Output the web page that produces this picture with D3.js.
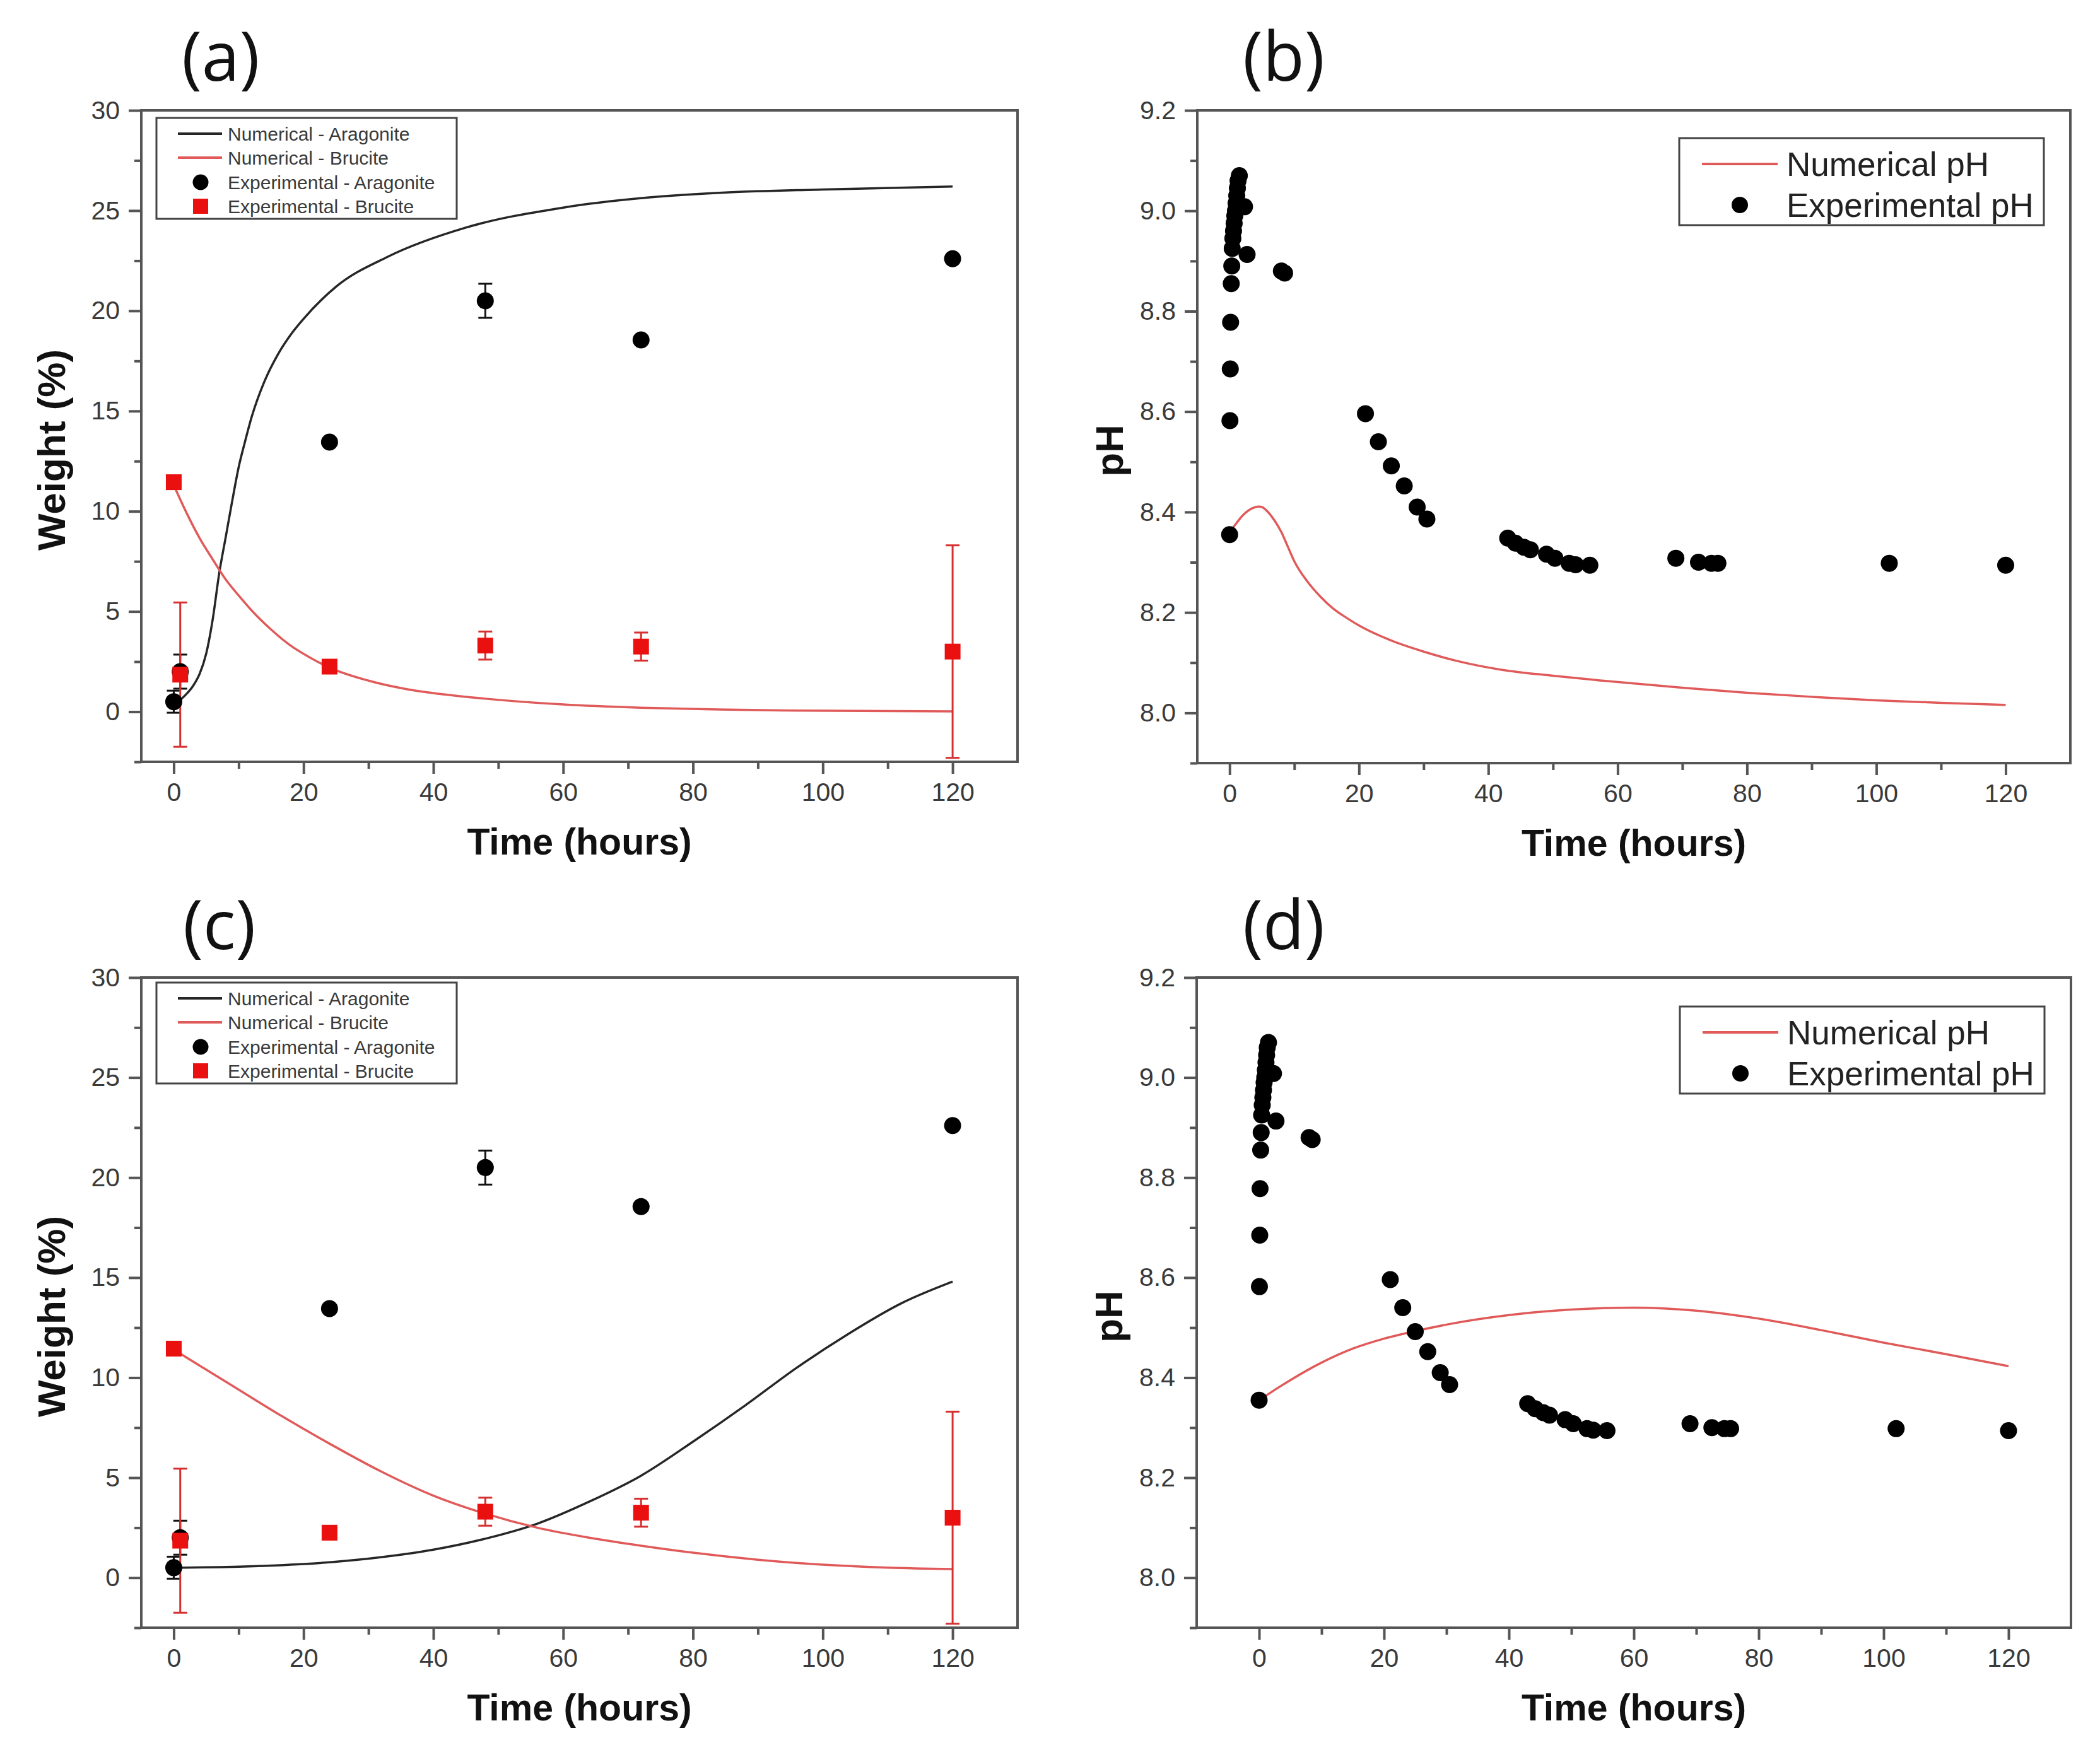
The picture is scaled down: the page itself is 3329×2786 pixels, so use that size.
<!DOCTYPE html>
<html>
<head>
<meta charset="utf-8">
<script src="https://cdn.jsdelivr.net/npm/d3@7/dist/d3.min.js"></script>
<style>
  html, body { margin: 0; padding: 0; background: #fff; }
  svg { display: block; }
</style>
</head>
<body>
<svg id="chart" width="3329" height="2786"></svg>
<script>
// ---- data ----
const timeTicks = [0, 20, 40, 60, 80, 100, 120];
const timeMinor = [10, 30, 50, 70, 90, 110];
const weightTicks = [0, 5, 10, 15, 20, 25, 30];
const weightMinor = [-2.5, 2.5, 7.5, 12.5, 17.5, 22.5, 27.5];
const phTicks = [8.0, 8.2, 8.4, 8.6, 8.8, 9.0, 9.2];
const phMinor = [7.9, 8.1, 8.3, 8.5, 8.7, 8.9, 9.1];

// experimental weights (same in a and c)
const expHours = [0, 1, 24, 48, 72, 120];
const expAragonite = [0.5, 2.0, 13.45, 20.5, 18.55, 22.6];
const expAragoniteErr = [0.55, 0.85, 0, 0.85, 0, 0];
const expBrucite = [11.45, 1.85, 2.25, 3.3, 3.25, 3.0];
const expBruciteErr = [0, 3.6, 0, 0.7, 0.7, 5.3];

// numerical weights, panel (a)
const numHoursA = [0, 1, 2, 3, 4, 5, 6, 7, 8, 9, 10, 11, 12, 14, 16, 18, 20, 25, 33, 45, 60, 73, 85, 100, 120];
const numAragoniteA = [0.5, 0.6, 0.9, 1.3, 1.9, 2.9, 4.6, 6.9, 8.7, 10.5, 12.2, 13.5, 14.7, 16.5, 17.8, 18.8, 19.6, 21.2, 22.7, 24.15, 25.15, 25.65, 25.9, 26.05, 26.2];
const numBruciteHoursA = [0, 2, 4, 6, 8, 10, 12, 15, 18, 21, 24, 30, 36, 42, 48, 60, 72, 84, 96, 120];
const numBruciteA = [11.3, 9.9, 8.65, 7.6, 6.6, 5.8, 5.05, 4.1, 3.3, 2.7, 2.2, 1.55, 1.12, 0.85, 0.65, 0.36, 0.2, 0.11, 0.06, 0.02];

// numerical weights, panel (c)
const numHoursC = [0, 10, 20, 30, 40, 48, 56, 64, 72, 80, 88, 96, 104, 112, 120];
const numAragoniteC = [0.5, 0.55, 0.68, 0.95, 1.4, 1.95, 2.7, 3.8, 5.1, 6.8, 8.6, 10.5, 12.2, 13.7, 14.8];
const numBruciteHoursC = [0, 8, 16, 24, 32, 40, 48, 56, 64, 72, 80, 90, 100, 110, 120];
const numBruciteC = [11.4, 9.8, 8.2, 6.7, 5.3, 4.1, 3.2, 2.5, 2.0, 1.6, 1.25, 0.9, 0.65, 0.5, 0.43];

// experimental pH (same in b and d)
const phHours = [0, 0.05, 0.1, 0.15, 0.25, 0.33, 0.4, 0.5, 0.6, 0.7, 0.8, 0.9, 1.0, 1.1, 1.2, 1.3, 1.5,
  2.3, 2.7, 8.0, 8.5, 21, 23, 25, 27, 29, 30.5, 43, 44.2, 45.5, 46.5, 49, 50.3, 52.5, 53.5, 55.7,
  69, 72.5, 74.5, 75.5, 102, 120];
const phExp = [8.355, 8.582, 8.685, 8.778, 8.855, 8.89, 8.925, 8.945, 8.96, 8.975, 8.99, 9.0, 9.015, 9.03, 9.045, 9.06, 9.07,
  9.008, 8.913, 8.88, 8.876, 8.596, 8.54, 8.492, 8.452, 8.41, 8.386, 8.348, 8.338, 8.33, 8.325, 8.316, 8.308, 8.298, 8.295, 8.294,
  8.308, 8.3, 8.298, 8.298, 8.298, 8.294];

// numerical pH, panel (b)
const numPhHoursB = [0, 1, 2, 3, 4, 4.5, 5, 6, 7, 8, 9, 10, 12, 14, 16, 18, 20, 25, 30, 35, 42, 50, 57, 70, 80, 90, 100, 110, 120];
const numPhB = [8.36, 8.377, 8.393, 8.404, 8.41, 8.411, 8.41, 8.399, 8.382, 8.36, 8.331, 8.302, 8.262, 8.232, 8.208, 8.19, 8.174, 8.144, 8.122, 8.104, 8.086, 8.074, 8.065, 8.05, 8.04, 8.032, 8.025, 8.02, 8.016];

// numerical pH, panel (d)
const numPhHoursD = [0, 5, 10, 15, 20, 25, 30, 40, 50, 60, 70, 80, 90, 100, 110, 120];
const numPhD = [8.355, 8.395, 8.43, 8.458, 8.478, 8.493, 8.506, 8.525, 8.536, 8.54, 8.534, 8.518, 8.495, 8.47, 8.447, 8.423];

// ---- drawing ----
const svg = d3.select("svg#chart");
svg.append("rect").attr("width", 3329).attr("height", 2786).attr("fill", "#fff");

const plainFont = "'Liberation Sans', Arial, sans-serif";
const frameColor = "#555";
const lineBlack = "#262626";
const lineRed = "#e05a5a";
const markRed = "#ea1010";

function pairs(xs, ys) {
  return xs.map((t, i) => [t, ys[i]]);
}

function drawFrame(g, p, x, y) {
  const xAxis = d3.axisBottom(x).tickValues(timeTicks).tickSize(19).tickPadding(14).tickFormat(d3.format("d"));
  const xMinor = d3.axisBottom(x).tickValues(timeMinor).tickSize(11).tickFormat("");
  const yAxis = d3.axisLeft(y).tickValues(p.yTicks).tickSize(20).tickPadding(14).tickFormat(p.yFormat);
  const yMinor = d3.axisLeft(y).tickValues(p.yMinor).tickSize(11).tickFormat("");

  [[xAxis, true], [xMinor, true], [yAxis, false], [yMinor, false]].forEach(([ax, bottom]) => {
    const a = g.append("g")
      .attr("transform", bottom ? `translate(0,${p.height})` : "translate(0,0)")
      .call(ax);
    a.select(".domain").remove();
    a.selectAll(".tick line").attr("stroke", frameColor).attr("stroke-width", 4);
    a.selectAll(".tick text")
      .attr("fill", "#3a3a3a")
      .style("font-family", plainFont)
      .style("font-size", "41px");
  });

  g.append("rect")
    .attr("x", 0).attr("y", 0)
    .attr("width", p.width).attr("height", p.height)
    .attr("fill", "none")
    .attr("stroke", frameColor)
    .attr("stroke-width", 4);

  // axis titles
  g.append("text")
    .attr("x", p.width / 2)
    .attr("y", p.height + 147)
    .attr("text-anchor", "middle")
    .style("font-family", plainFont)
    .style("font-weight", "bold")
    .style("font-size", "59px")
    .attr("fill", "#111")
    .text("Time (hours)");

  g.append("text")
    .attr("transform", `translate(${p.yTitleX},${p.height / 2 + 22}) rotate(-90)`)
    .attr("text-anchor", "middle")
    .style("font-family", plainFont)
    .style("font-weight", "bold")
    .style("font-size", "62px")
    .attr("fill", "#111")
    .text(p.yTitle);

  // panel letter
  svg.append("text")
    .attr("x", p.labelX)
    .attr("y", p.labelY)
    .style("font-family", "'Open Sans', 'Noto Sans', sans-serif")
    .style("font-size", "108px")
    .attr("fill", "#111")
    .text(p.label);
}

function weightPanel(p, numAragonite, numBrucite) {
  const g = svg.append("g").attr("transform", `translate(${p.left},${p.top})`);
  const x = d3.scaleLinear().domain(p.xDomain).range([0, p.width]);
  const y = d3.scaleLinear().domain([-2.5, 30]).range([p.height, 0]);
  drawFrame(g, p, x, y);

  const line = d3.line().x(d => x(d[0])).y(d => y(d[1])).curve(d3.curveMonotoneX);
  g.append("path").datum(numAragonite).attr("d", line)
    .attr("fill", "none").attr("stroke", lineBlack).attr("stroke-width", 3.5);
  g.append("path").datum(numBrucite).attr("d", line)
    .attr("fill", "none").attr("stroke", lineRed).attr("stroke-width", 3.5);

  const errorBars = (vals, errs, color) => {
    const rows = expHours.map((t, i) => ({ t: t, v: vals[i], e: errs[i] })).filter(d => d.e > 0);
    const eg = g.append("g").attr("stroke", color).attr("stroke-width", 3);
    eg.selectAll("line.bar").data(rows).join("line").attr("class", "bar")
      .attr("x1", d => x(d.t)).attr("x2", d => x(d.t))
      .attr("y1", d => y(d.v - d.e)).attr("y2", d => y(d.v + d.e));
    eg.selectAll("line.capt").data(rows).join("line").attr("class", "capt")
      .attr("x1", d => x(d.t) - 11).attr("x2", d => x(d.t) + 11)
      .attr("y1", d => y(d.v + d.e)).attr("y2", d => y(d.v + d.e));
    eg.selectAll("line.capb").data(rows).join("line").attr("class", "capb")
      .attr("x1", d => x(d.t) - 11).attr("x2", d => x(d.t) + 11)
      .attr("y1", d => y(d.v - d.e)).attr("y2", d => y(d.v - d.e));
  };
  errorBars(expAragonite, expAragoniteErr, "#111");
  errorBars(expBrucite, expBruciteErr, "#d63030");

  g.selectAll("circle.arag").data(pairs(expHours, expAragonite)).join("circle")
    .attr("class", "arag")
    .attr("cx", d => x(d[0])).attr("cy", d => y(d[1]))
    .attr("r", 13.5).attr("fill", "#000");
  g.selectAll("rect.bruc").data(pairs(expHours, expBrucite)).join("rect")
    .attr("class", "bruc")
    .attr("x", d => x(d[0]) - 12.5).attr("y", d => y(d[1]) - 12.5)
    .attr("width", 25).attr("height", 25).attr("fill", markRed);

  // legend
  const lg = g.append("g").attr("transform", `translate(24,${p.legendTop})`);
  lg.append("rect").attr("width", 476).attr("height", 160)
    .attr("fill", "#fff").attr("stroke", "#444").attr("stroke-width", 3);
  const items = [
    { kind: "line", color: lineBlack, text: "Numerical - Aragonite" },
    { kind: "line", color: lineRed, text: "Numerical - Brucite" },
    { kind: "dot", color: "#000", text: "Experimental - Aragonite" },
    { kind: "square", color: markRed, text: "Experimental - Brucite" }
  ];
  const rowY = [25, 63, 102, 140];
  items.forEach((it, i) => {
    const ry = rowY[i];
    if (it.kind === "line") {
      lg.append("line").attr("x1", 34).attr("x2", 104).attr("y1", ry).attr("y2", ry)
        .attr("stroke", it.color).attr("stroke-width", 4);
    } else if (it.kind === "dot") {
      lg.append("circle").attr("cx", 70).attr("cy", ry).attr("r", 12.5).attr("fill", it.color);
    } else {
      lg.append("rect").attr("x", 58).attr("y", ry - 12).attr("width", 24).attr("height", 24).attr("fill", it.color);
    }
    lg.append("text").attr("x", 113).attr("y", ry + 11)
      .style("font-family", plainFont).style("font-size", "30px")
      .attr("fill", "#3a3a3a").text(it.text);
  });
}

function phPanel(p, numPh) {
  const g = svg.append("g").attr("transform", `translate(${p.left},${p.top})`);
  const x = d3.scaleLinear().domain(p.xDomain).range([0, p.width]);
  const y = d3.scaleLinear().domain([7.9, 9.2]).range([p.height, 0]);
  drawFrame(g, p, x, y);

  const line = d3.line().x(d => x(d[0])).y(d => y(d[1])).curve(d3.curveMonotoneX);
  g.append("path").datum(numPh).attr("d", line)
    .attr("fill", "none").attr("stroke", lineRed).attr("stroke-width", 3.5);

  g.selectAll("circle.ph").data(pairs(phHours, phExp)).join("circle")
    .attr("class", "ph")
    .attr("cx", d => x(d[0])).attr("cy", d => y(d[1]))
    .attr("r", 13.5).attr("fill", "#000");

  const lg = g.append("g").attr("transform", `translate(${p.width - 620},${p.legendTop})`);
  lg.append("rect").attr("width", 578).attr("height", 138)
    .attr("fill", "#fff").attr("stroke", "#444").attr("stroke-width", 3);
  lg.append("line").attr("x1", 36).attr("x2", 156).attr("y1", 41).attr("y2", 41)
    .attr("stroke", lineRed).attr("stroke-width", 4);
  lg.append("circle").attr("cx", 96).attr("cy", 106).attr("r", 13).attr("fill", "#000");
  [["Numerical pH", 41], ["Experimental pH", 106]].forEach(([t, ry]) => {
    lg.append("text").attr("x", 170).attr("y", ry + 19)
      .style("font-family", plainFont).style("font-size", "53px")
      .attr("fill", "#222").text(t);
  });
}

const fmtW = d3.format("d");
const fmtPh = d3.format(".1f");

weightPanel({
  left: 224, top: 175, width: 1389, height: 1033, xDomain: [-5, 130],
  yTicks: weightTicks, yMinor: weightMinor, yFormat: fmtW, yTitle: "Weight (%)", yTitleX: -121,
  label: "(a)", labelX: 288, labelY: 128, legendTop: 12
}, pairs(numHoursA, numAragoniteA), pairs(numBruciteHoursA, numBruciteA));

phPanel({
  left: 1898, top: 175, width: 1384, height: 1035, xDomain: [-5, 130],
  yTicks: phTicks, yMinor: phMinor, yFormat: fmtPh, yTitle: "pH", yTitleX: -118,
  label: "(b)", labelX: 1970, labelY: 128, legendTop: 44
}, pairs(numPhHoursB, numPhB));

weightPanel({
  left: 224, top: 1550, width: 1389, height: 1031, xDomain: [-5, 130],
  yTicks: weightTicks, yMinor: weightMinor, yFormat: fmtW, yTitle: "Weight (%)", yTitleX: -121,
  label: "(c)", labelX: 290, labelY: 1505, legendTop: 8
}, pairs(numHoursC, numAragoniteC), pairs(numBruciteHoursC, numBruciteC));

phPanel({
  left: 1897, top: 1550, width: 1386, height: 1031, xDomain: [-10, 130],
  yTicks: phTicks, yMinor: phMinor, yFormat: fmtPh, yTitle: "pH", yTitleX: -118,
  label: "(d)", labelX: 1970, labelY: 1505, legendTop: 46
}, pairs(numPhHoursD, numPhD));
</script>
</body>
</html>
